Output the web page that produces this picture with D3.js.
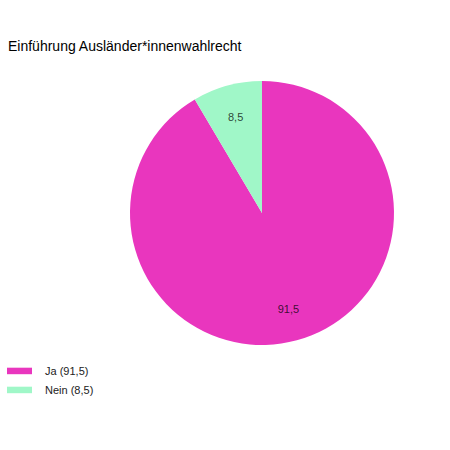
<!DOCTYPE html>
<html>
<head>
<meta charset="utf-8">
<script src="https://cdn.jsdelivr.net/npm/d3@7"></script>
<style>
  html, body { margin: 0; padding: 0; background: #fff; }
  svg { display: block; }
  text { font-family: "Liberation Sans", Arial, Helvetica, sans-serif; }
</style>
</head>
<body>
<svg id="chart" width="450" height="450"></svg>
<script>
const title = "Einführung Ausländer*innenwahlrecht";
const categories = ["Ja", "Nein"];
const values = [91.5, 8.5];
const colors = ["#E936BE", "#A0F7C8"];

const fmt = v => String(v).replace(".", ",");

const svg = d3.select("#chart");
const W = 450, H = 450;
svg.append("rect").attr("width", W).attr("height", H).attr("fill", "#fff");

svg.append("text")
  .attr("x", 8).attr("y", 51)
  .attr("font-size", 14)
  .attr("fill", "#000")
  .text(title);

const cx = 262, cy = 213, R = 132;
const data = categories.map((c, i) => ({ cat: c, value: values[i], color: colors[i] }));

const pie = d3.pie().value(d => d.value).sort(null)
  .startAngle(0).endAngle(2 * Math.PI);
const arcs = pie(data);
const arc = d3.arc().innerRadius(0).outerRadius(R);
const labelArc = d3.arc().innerRadius(100).outerRadius(100);

const g = svg.append("g").attr("transform", `translate(${cx},${cy})`);
g.selectAll("path").data(arcs).join("path")
  .attr("d", arc)
  .attr("fill", d => d.data.color);

g.selectAll("text.lbl").data(arcs).join("text")
  .attr("class", "lbl")
  .attr("transform", d => `translate(${labelArc.centroid(d)})`)
  .attr("text-anchor", "middle")
  .attr("dominant-baseline", "central")
  .attr("font-size", 11)
  .attr("fill", "rgba(0,0,0,0.75)")
  .text(d => fmt(d.data.value));

const lg = svg.append("g");
const legendY = d3.scalePoint().domain(categories).range([371, 390]);
const items = lg.selectAll("g").data(data).join("g")
  .attr("transform", d => `translate(0,${legendY(d.cat)})`);
items.append("rect")
  .attr("x", 7).attr("y", -3.3).attr("width", 25).attr("height", 6.5)
  .attr("fill", d => d.color);
items.append("text")
  .attr("x", 45).attr("y", 4)
  .attr("font-size", 11)
  .attr("fill", "#222")
  .text(d => `${d.cat} (${fmt(d.value)})`);
</script>
</body>
</html>
